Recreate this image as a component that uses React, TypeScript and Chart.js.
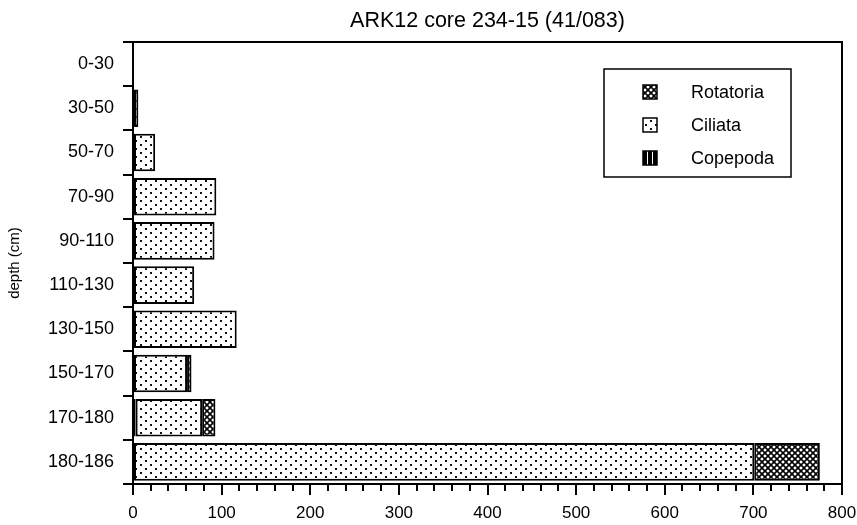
import { useEffect, useRef } from 'react';
import { Chart, registerables } from 'chart.js';

Chart.register(...registerables);

const FONT = '"Liberation Sans", Arial, Helvetica, sans-serif';

const title = 'ARK12 core 234-15 (41/083)';
const depths = ['0-30', '30-50', '50-70', '70-90', '90-110', '110-130', '130-150', '150-170', '170-180', '180-186'];
const copepoda = [null, null, null, null, null, null, null, null, 3, null];
const ciliata = [null, 6, 25, 94, 92, 69, 117, 61, 75, 701];
const rotatoria = [null, null, null, null, null, null, null, 5, 15, 74];
const xMin = 0;
const xMax = 800;
const majorStep = 100;
const minorStep = 20;

function tile(w: number, h: number, paint: (g: CanvasRenderingContext2D) => void): CanvasPattern {
  const c = document.createElement('canvas');
  c.width = w;
  c.height = h;
  const g = c.getContext('2d')!;
  paint(g);
  return g.createPattern(c, 'repeat')!;
}

// sparse stippled dots
const dotPattern = () =>
  tile(10, 8, (g) => {
    g.fillStyle = '#fff';
    g.fillRect(0, 0, 10, 8);
    g.fillStyle = '#111';
    g.fillRect(0, 0, 2, 2);
    g.fillRect(5, 4, 2, 2);
  });

// dense cross-hatch
const hatchPattern = () =>
  tile(6, 6, (g) => {
    g.fillStyle = '#fff';
    g.fillRect(0, 0, 6, 6);
    g.strokeStyle = '#000';
    g.lineWidth = 1.6;
    g.beginPath();
    g.moveTo(-1, -1);
    g.lineTo(7, 7);
    g.moveTo(-1, 7);
    g.lineTo(7, -1);
    g.stroke();
  });

// vertical stripes
const stripePattern = () =>
  tile(5, 5, (g) => {
    g.fillStyle = '#000';
    g.fillRect(0, 0, 5, 5);
    g.fillStyle = '#fff';
    g.fillRect(2, 0, 1, 5);
  });

export default function App() {
  const ref = useRef<HTMLCanvasElement>(null);

  useEffect(() => {
    if (!ref.current) return;
    const patterns = {
      Copepoda: stripePattern(),
      Ciliata: dotPattern(),
      Rotatoria: hatchPattern(),
    };

    const decor = {
      id: 'decor',
      afterDraw(chart: any) {
        const { ctx, chartArea, scales } = chart;
        const { left, right, top, bottom } = chartArea;
        const x = scales.x;
        ctx.save();
        ctx.strokeStyle = '#000';
        ctx.lineWidth = 2;
        // top and right frame
        ctx.beginPath();
        ctx.moveTo(left, top);
        ctx.lineTo(right, top);
        ctx.lineTo(right, bottom);
        ctx.stroke();
        // minor ticks on the value axis
        ctx.beginPath();
        for (let v = xMin + minorStep; v < xMax; v += minorStep) {
          if (v % majorStep === 0) continue;
          const px = Math.round(x.getPixelForValue(v));
          ctx.moveTo(px, bottom);
          ctx.lineTo(px, bottom + 7);
        }
        ctx.stroke();

        // title
        ctx.fillStyle = '#000';
        ctx.font = `21.5px ${FONT}`;
        ctx.textAlign = 'center';
        ctx.textBaseline = 'middle';
        ctx.fillText(title, (left + right) / 2, 21);

        // legend
        const bx = right - 238;
        const by = top + 27;
        const bw = 187;
        const bh = 108;
        ctx.fillStyle = '#fff';
        ctx.fillRect(bx, by, bw, bh);
        ctx.lineWidth = 1.5;
        ctx.strokeRect(bx, by, bw, bh);
        const items = chart.data.datasets.slice().reverse();
        ctx.font = `18px ${FONT}`;
        ctx.textAlign = 'left';
        items.forEach((ds: any, i: number) => {
          const cy = by + 23 + i * 33;
          ctx.fillStyle = ds.backgroundColor;
          ctx.fillRect(bx + 39, cy - 7, 14, 14);
          ctx.lineWidth = 1.5;
          ctx.strokeRect(bx + 39, cy - 7, 14, 14);
          ctx.fillStyle = '#000';
          ctx.fillText(ds.label, bx + 87, cy + 1);
        });
        ctx.restore();
      },
    };

    const mk = (label: 'Copepoda' | 'Ciliata' | 'Rotatoria', data: (number | null)[]) => ({
      label,
      data,
      backgroundColor: patterns[label],
      borderColor: '#000',
      borderWidth: 2,
      borderSkipped: false,
      barPercentage: 0.85,
      categoryPercentage: 1,
    });

    const chart = new Chart(ref.current, {
      type: 'bar',
      data: {
        labels: depths,
        datasets: [mk('Copepoda', copepoda), mk('Ciliata', ciliata), mk('Rotatoria', rotatoria)] as any,
      },
      options: {
        indexAxis: 'y',
        responsive: false,
        animation: false,
        layout: { padding: { left: 0, right: 15, top: 42, bottom: 0 } },
        plugins: {
          legend: { display: false },
          title: { display: false },
          tooltip: { enabled: false },
        },
        scales: {
          x: {
            type: 'linear',
            stacked: true,
            min: xMin,
            max: xMax,
            position: 'bottom',
            afterFit: (s: any) => {
              s.height = 41;
              s.paddingLeft = 0;
              s.paddingRight = 0;
            },
            ticks: { stepSize: majorStep, color: '#000', padding: 8, font: { family: FONT, size: 17 } },
            grid: { drawOnChartArea: false, tickLength: 11, color: '#000', lineWidth: 2 },
            border: { display: true, color: '#000', width: 2 },
          },
          y: {
            type: 'category',
            stacked: true,
            afterFit: (s: any) => {
              s.width = 133;
            },
            ticks: { color: '#000', padding: 9, font: { family: FONT, size: 18 } },
            grid: { drawOnChartArea: false, offset: true, tickLength: 10, color: '#000', lineWidth: 2 },
            border: { display: true, color: '#000', width: 2 },
            title: {
              display: true,
              text: 'depth (cm)',
              color: '#000',
              font: { family: FONT, size: 15 },
              padding: { top: 6, bottom: 0 },
            },
          },
        },
      } as any,
      plugins: [decor],
    });
    return () => chart.destroy();
  }, []);

  return (
    <div style={{ position: 'absolute', left: 0, top: 0, width: 857, height: 525, background: '#fff' }}>
      <canvas ref={ref} width={857} height={525} />
    </div>
  );
}
